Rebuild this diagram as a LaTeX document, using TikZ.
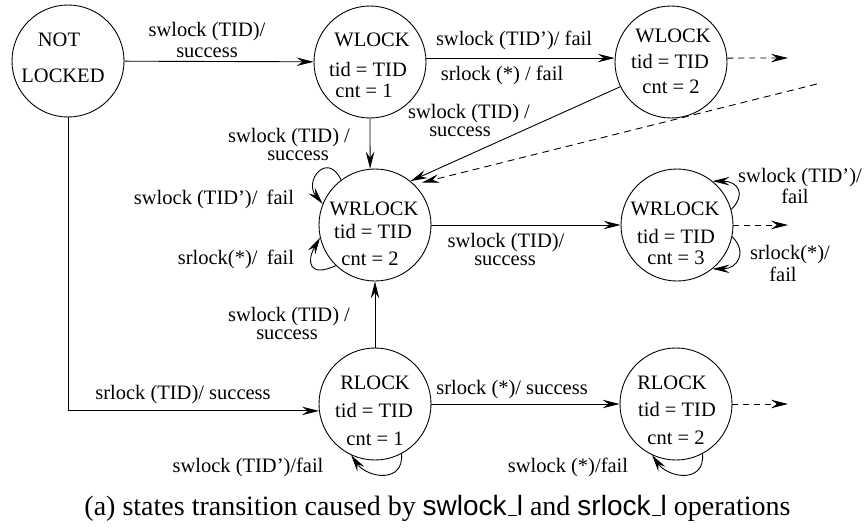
\documentclass[tikz,border=0pt]{standalone}
\usepackage{fontspec}
\setmainfont{Liberation Serif}
\setsansfont{Liberation Sans}
\usetikzlibrary{arrows.meta}
% low rule used as the underscore in the operation names
\newcommand{\lowbar}{\leavevmode\kern.06em\vbox{\hrule width.3em}}
\begin{document}
\begin{tikzpicture}[x=1pt,y=1pt,
  state/.style={circle, draw, line width=0.9pt, minimum size=112pt, inner sep=0pt},
  txt/.style={anchor=base, inner sep=0pt, font=\fontsize{20.5}{22}\selectfont},
  arr/.style={line width=0.9pt, -{Stealth[length=17pt,width=8.5pt,inset=6pt]}},
  dsh/.style={dash pattern=on 6pt off 5pt}]
\useasboundingbox (0,0) rectangle (864,-527);

% states
\node[state] (nl)  at (68,-61)  {};
\node[state] (wl1) at (370,-62) {};
\node[state] (wl2) at (671,-62) {};
\node[state] (wr1) at (375,-225) {};
\node[state] (wr2) at (677,-225) {};
\node[state] (rl1) at (375,-404) {};
\node[state] (rl2) at (676,-404) {};

% state contents
\node[txt] (nla) at (59,-47) {NOT};
\node[txt] (nlb) at (63,-82) {LOCKED};
\node[txt] (w1a) at (372,-47) {WLOCK};
\node[txt] (w1b) at (368,-77) {tid = TID};
\node[txt] (w1c) at (364,-97) {cnt = 1};
\node[txt] (w2a) at (673,-42) {WLOCK};
\node[txt] (w2b) at (670,-69) {tid = TID};
\node[txt] (w2c) at (671,-93) {cnt = 2};
\node[txt] (r1a) at (374,-215) {WRLOCK};
\node[txt] (r1b) at (373,-238) {tid = TID};
\node[txt] (r1c) at (370,-265) {cnt = 2};
\node[txt] (r2a) at (675,-215) {WRLOCK};
\node[txt] (r2b) at (676,-243) {tid = TID};
\node[txt] (r2c) at (676,-264) {cnt = 3};
\node[txt] (l1a) at (375,-389) {RLOCK};
\node[txt] (l1b) at (374,-417) {tid = TID};
\node[txt] (l1c) at (375,-445) {cnt = 1};
\node[txt] (l2a) at (672,-389) {RLOCK};
\node[txt] (l2b) at (677,-416) {tid = TID};
\node[txt] (l2c) at (676,-444) {cnt = 2};

% free ends of the dashed continuations
\coordinate (wd) at (788,-58);
\coordinate (rd) at (788,-225);
\coordinate (ld) at (788,-404);
\coordinate (dz) at (817,-84);

% transitions
\draw[arr] (nl) -- (wl1);
\draw[arr] (wl1.4) -- (wl2.176);
\draw[arr,dsh] (wl2.4) -- (wd);
\draw[arr] (wl1.south) -- (wr1.95);
\draw[arr] (wl2.206) -- (wr1.51);
\draw[arr,dash pattern=on 7pt off 5pt] (dz) -- ([shift={(42:7)}]wr1.42);
\draw[arr] (wr1) -- (wr2);
\draw[arr,dsh] (wr2) -- (rd);
\draw[arr] (rl1) -- (wr1);
\draw[arr] (nl.south) |- (rl1.187);
\draw[arr] (rl1) -- (rl2);
\draw[arr,dsh] (rl2) -- (ld);

% self loops
\draw[arr] (wr1.127) .. controls +(115:32) and +(130:30) .. (wr1.158);
\draw[arr] (wr1.226) .. controls +(205:30) and +(240:27) .. (wr1.193);
\draw[arr] (wr2.16) .. controls +(45:22) and +(0:25) .. (wr2.51);
\draw[arr] (wr2.-12) .. controls +(-45:22) and +(0:25) .. (wr2.-51);
\draw[arr] (rl1.-62) .. controls +(-85:30) and +(-55:28) .. (rl1.-115);
\draw[arr] (rl2.-62) .. controls +(-85:30) and +(-55:28) .. (rl2.-115);

% transition labels
\node[txt] (a1) at (207,-37) {swlock (TID)/};
\node[txt] (a2) at (207,-58) {success};
\node[txt] (b1) at (514,-46) {swlock (TID')/ fail};
\node[txt] (b2) at (502,-81) {srlock (*) / fail};
\node[txt] (c1) at (469,-118) {swlock (TID) /};
\node[txt] (c2) at (460,-136) {success};
\node[txt] (d1) at (289,-142) {swlock (TID) /};
\node[txt] (d2) at (298,-160) {success};
\node[txt] (e1) at (214,-204) {swlock (TID')/\hspace{0.45em}fail};
\node[txt] (e2) at (236,-264) {srlock(*)/\hspace{0.45em}fail};
\node[txt] (f1) at (506,-247) {swlock (TID)/};
\node[txt] (f2) at (505,-265) {success};
\node[txt] (g1) at (289,-321) {swlock (TID) /};
\node[txt] (g2) at (287,-339) {success};
\node[txt] (h1) at (800,-182) {swlock (TID')/};
\node[txt] (h2) at (795,-203) {fail};
\node[txt] (i1) at (790,-259) {srlock(*)/};
\node[txt] (i2) at (783,-281) {fail};
\node[txt] (j1) at (183,-399) {srlock (TID)/ success};
\node[txt] (j2) at (248,-472) {swlock (TID')/fail};
\node[txt] (k1) at (512,-394) {srlock (*)/ success};
\node[txt] (k2) at (568,-472) {swlock (*)/fail};

% caption
\node[anchor=base, inner sep=0pt, font=\fontsize{28}{30}\selectfont] (cap) at (437.5,-515)
  {(a) states transition caused by \textsf{swlock\lowbar l} and \textsf{srlock\lowbar l} operations};
\end{tikzpicture}
\end{document}
